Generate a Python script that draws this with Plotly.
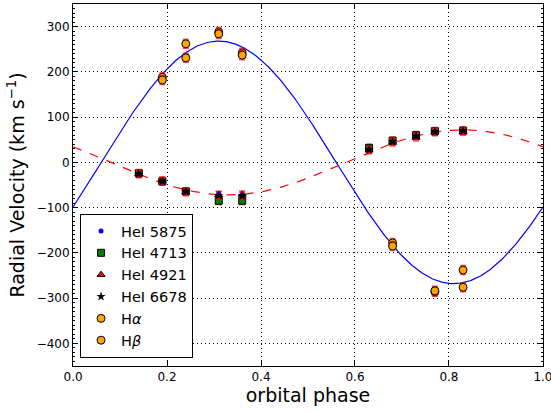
import numpy as np
import plotly.graph_objects as go

# ---- data ----
phase = [0.14, 0.19, 0.24, 0.31, 0.36, 0.63, 0.68, 0.73, 0.77, 0.83]
hei_5875 = [-27, -46, -65, -69, -72, 28, 45, 56, 68, 68]
hei_4713 = [-24, -42, -64, -85, -85, 32, 48, 60, 69, 70]
hei_4921 = [-25, -40, -66, -72, -71, 27, 44, 55, 67, 68]
hei_6678 = [-26, -42, -64, -73, -74, 28, 46, 58, 68, 70]

phase_h = [0.19, 0.24, 0.31, 0.36, 0.68, 0.77, 0.83]
h_alpha = [188, 262, 288, 242, -178, -286, -238]
h_beta = [182, 231, 284, 237, -185, -284, -276]

err_he = 8
err_h = 10

# orbital fit parameters (sine models)
K_blue, gamma_blue, phi0_blue = 268, 0, 0.06
K_red, gamma_red, phi0_red = 72, 0, 0.08

x_ticks = [0.0, 0.2, 0.4, 0.6, 0.8, 1.0]
y_ticks = [300, 200, 100, 0, -100, -200, -300, -400]

# ---- figure ----
ph = np.linspace(0, 1, 400)
v_blue = gamma_blue + K_blue * np.sin(2 * np.pi * (ph - phi0_blue))
v_red = gamma_red - K_red * np.sin(2 * np.pi * (ph - phi0_red))

fig = go.Figure()
fig.add_trace(go.Scatter(x=ph, y=v_blue, mode="lines",
                         line=dict(color="blue", width=1.2), showlegend=False))
fig.add_trace(go.Scatter(x=ph, y=v_red, mode="lines",
                         line=dict(color="red", width=1.2, dash="dash"), showlegend=False))

def err(n, e):
    return dict(type="data", array=[e] * n, color="rgba(255,0,0,0.7)", thickness=1.5, width=3)

fig.add_trace(go.Scatter(x=phase, y=hei_4713, mode="markers", name="HeI 4713",
                         error_y=err(len(phase), err_he),
                         marker=dict(symbol="square", size=7, color="green",
                                     line=dict(color="black", width=1))))
fig.add_trace(go.Scatter(x=phase, y=hei_4921, mode="markers", name="HeI 4921",
                         error_y=err(len(phase), err_he),
                         marker=dict(symbol="triangle-up", size=7, color="red",
                                     line=dict(color="black", width=1))))
fig.add_trace(go.Scatter(x=phase, y=hei_5875, mode="markers", name="HeI 5875",
                         marker=dict(symbol="circle", size=5, color="blue",
                                     line=dict(width=0))))
fig.add_trace(go.Scatter(x=phase, y=hei_6678, mode="markers", name="HeI 6678",
                         error_y=err(len(phase), err_he),
                         marker=dict(symbol="star", size=7, color="black",
                                     line=dict(color="black", width=0))))
fig.add_trace(go.Scatter(x=phase_h, y=h_alpha, mode="markers", name="H<i>α</i>",
                         error_y=err(len(phase_h), err_h),
                         marker=dict(symbol="circle", size=8, color="orange",
                                     line=dict(color="black", width=1))))
fig.add_trace(go.Scatter(x=phase_h, y=h_beta, mode="markers", name="H<i>β</i>",
                         error_y=err(len(phase_h), err_h),
                         marker=dict(symbol="circle", size=8, color="orange",
                                     line=dict(color="black", width=1))))

# legend order as in reference
order = {"HeI 5875": 1, "HeI 4713": 2, "HeI 4921": 3, "HeI 6678": 4, "H<i>α</i>": 5, "H<i>β</i>": 6}
for tr in fig.data:
    if tr.name in order:
        tr.legendrank = order[tr.name]

axis_common = dict(
    showline=True, linecolor="black", linewidth=1, mirror="allticks",
    ticks="inside", ticklen=5, tickcolor="black",
    showgrid=True, gridcolor="black", griddash="1px,3px", gridwidth=1,
    zeroline=False, automargin=False,
    tickfont=dict(family="DejaVu Sans", size=12, color="black"),
)

fig.update_xaxes(range=[-0.0001, 1.0001], tickvals=x_ticks, ticktext=[f"{t:.1f}" for t in x_ticks],
                 ticklabeloverflow="allow",
                 title=dict(text="orbital phase", font=dict(family="DejaVu Sans", size=19, color="black"),
                            standoff=4),
                 **axis_common)
fig.update_yaxes(range=[-450, 350], tickvals=y_ticks, ticktext=[f"{t}" if t >= 0 else f"\u2212{-t}" for t in y_ticks],
                 title=dict(text="Radial Velocity (km s<sup>\u22121</sup>)",
                            font=dict(family="DejaVu Sans", size=19, color="black"), standoff=6),
                 minor=dict(ticks="inside", dtick=10, ticklen=2, tickcolor="black", showgrid=False),
                 **axis_common)

fig.update_layout(
    width=551, height=411,
    margin=dict(l=73, r=8, t=4, b=45),
    plot_bgcolor="white", paper_bgcolor="white",
    font=dict(family="DejaVu Sans", color="black"),
    legend=dict(x=0.015, y=0.022, xanchor="left", yanchor="bottom",
                bgcolor="white", bordercolor="black", borderwidth=1,
                font=dict(family="DejaVu Sans", size=14.5, color="black"),
                tracegroupgap=0, itemsizing="trace", itemwidth=30),
)

fig.write_html("out.html")
